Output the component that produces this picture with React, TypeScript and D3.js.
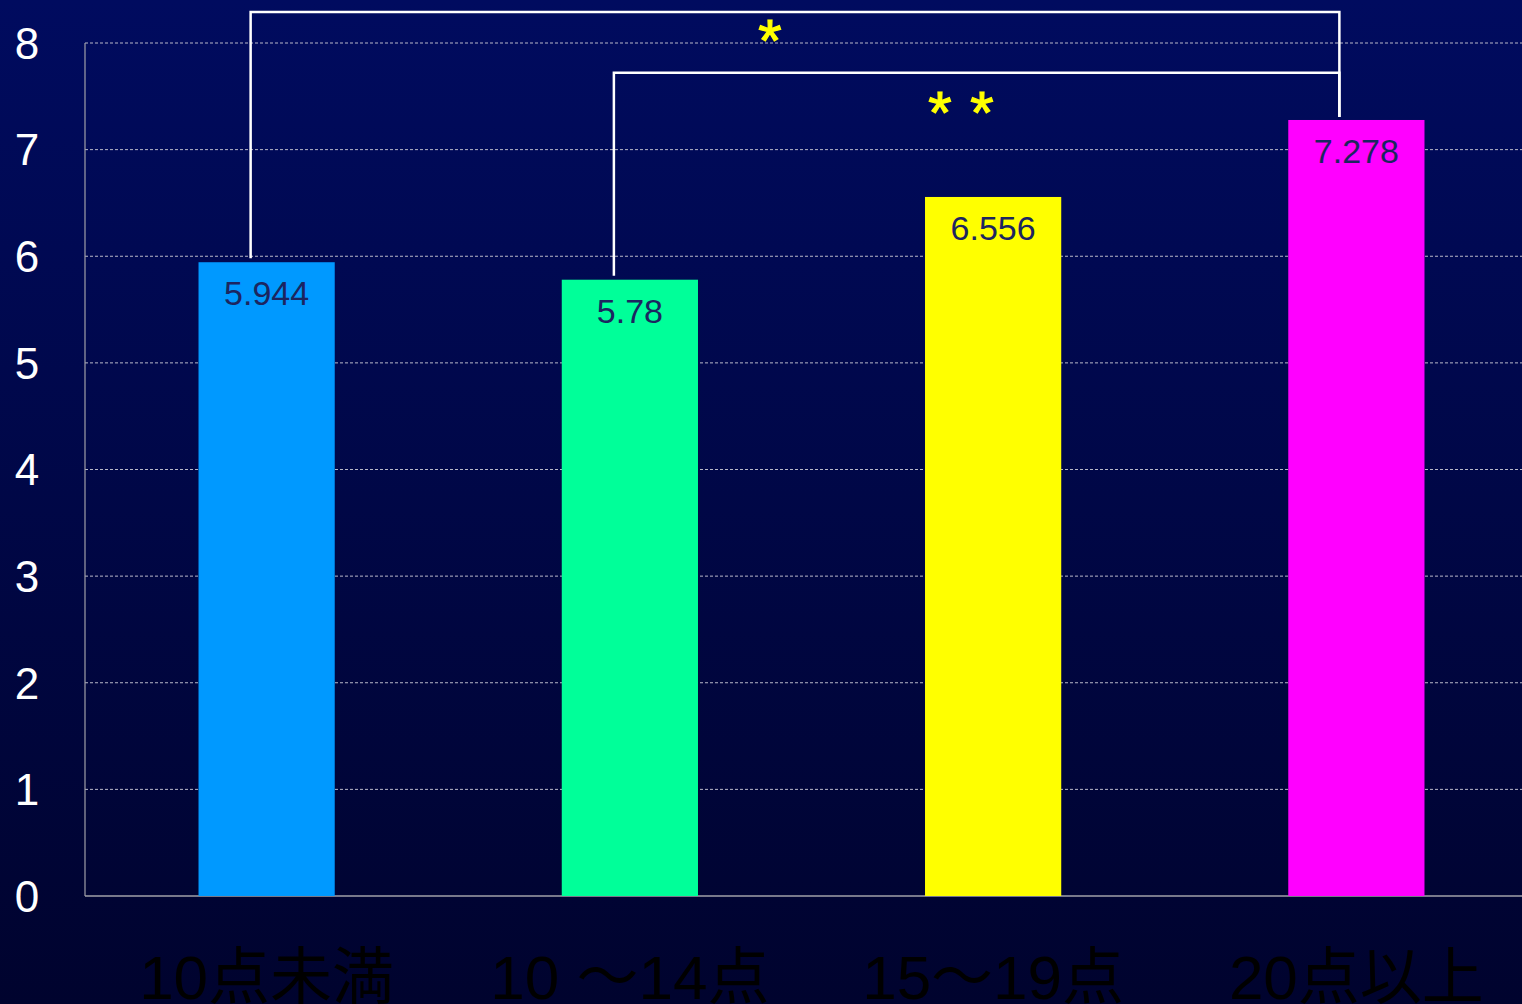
import React from "react";
import * as d3 from "d3";

const categories = ["10点未満", "10 〜14点", "15〜19点", "20点以上"];
const values = [5.944, 5.78, 6.556, 7.278];
const barColors = ["#0099ff", "#00ff99", "#ffff00", "#ff00ff"];
const yTicks = [0, 1, 2, 3, 4, 5, 6, 7, 8];
// significance brackets: [from index, to index, bracket level value, star count]
const brackets: [number, number, number, number][] = [
  [0, 3, 8.29, 1],
  [1, 3, 7.72, 2],
];

const W = 1522;
const H = 1004;

export default function App() {
  const x = d3
    .scaleBand<string>()
    .domain(categories)
    .range([85, 1538])
    .paddingInner(0.625)
    .paddingOuter(0.3125);
  const y = d3.scaleLinear().domain([0, 8]).range([896, 43]);
  const bw = x.bandwidth();
  const cx = (i: number) => (x(categories[i]) as number) + bw / 2;

  // star positions for each bracket
  const starX = [[770], [940, 982]];
  const starDy = [49, 60];

  return (
    <svg
      width={W}
      height={H}
      style={{ position: "absolute", left: 0, top: 0, display: "block" }}
      fontFamily="'Liberation Sans', Arial, 'Noto Sans CJK JP', sans-serif"
    >
      <defs>
        <linearGradient id="bg" x1="0" y1="0" x2="0" y2="1">
          <stop offset="0" stopColor="#000b5f" />
          <stop offset="1" stopColor="#00032e" />
        </linearGradient>
      </defs>
      <rect x={0} y={0} width={W} height={H} fill="url(#bg)" />

      {/* grid */}
      {yTicks.slice(1).map((t) => (
        <line
          key={t}
          x1={85}
          x2={W}
          y1={y(t)}
          y2={y(t)}
          stroke="#b8b8c8"
          strokeWidth={1}
          strokeDasharray="3,2"
        />
      ))}

      {/* axes */}
      <line x1={85} x2={85} y1={y(8)} y2={y(0)} stroke="#a0a0a8" strokeWidth={1.2} />
      <line x1={85} x2={W} y1={y(0)} y2={y(0)} stroke="#a0a0a8" strokeWidth={1.5} />

      {yTicks.map((t) => (
        <text
          key={t}
          x={27}
          y={y(t)}
          dy="0.36em"
          textAnchor="middle"
          fill="#ffffff"
          fontSize={44}
        >
          {t}
        </text>
      ))}

      {/* bars */}
      {values.map((v, i) => (
        <g key={i}>
          <rect
            x={x(categories[i])}
            y={y(v)}
            width={bw}
            height={y(0) - y(v)}
            fill={barColors[i]}
          />
          <text
            x={cx(i)}
            y={y(v) + 43}
            textAnchor="middle"
            fill="#1c2560"
            fontSize={34}
          >
            {v}
          </text>
        </g>
      ))}

      {/* category labels */}
      {categories.map((c, i) => (
        <text
          key={c}
          x={cx(i)}
          y={999}
          textAnchor="middle"
          fill="#000000"
          fontSize={62}
        >
          {c}
        </text>
      ))}

      {/* significance brackets */}
      {brackets.map(([a, b, level, n], k) => {
        const xa = cx(a) - 16;
        const xb = cx(b) - 17;
        const yl = y(level);
        return (
          <g key={k}>
            <path
              d={`M${xa},${y(values[a]) - 4}V${yl}H${xb}V${y(values[b]) - 3}`}
              fill="none"
              stroke="#ffffff"
              strokeWidth={2.5}
            />
            {starX[k].slice(0, n).map((sx, j) => (
              <text
                key={j}
                x={sx}
                y={yl + starDy[k]}
                textAnchor="middle"
                fill="#ffff00"
                stroke="#ffff00"
                strokeWidth={1.2}
                fontSize={60}
              >
                *
              </text>
            ))}
          </g>
        );
      })}
    </svg>
  );
}
